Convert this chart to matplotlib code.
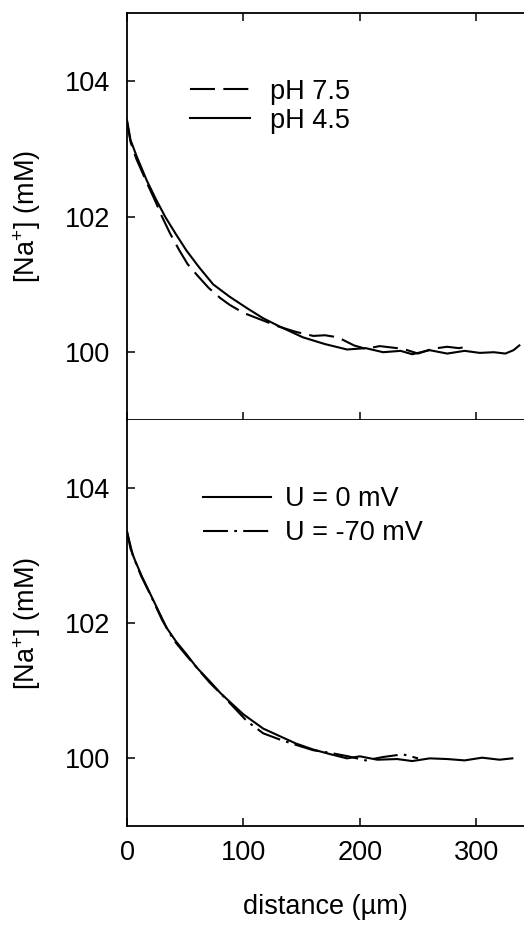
import matplotlib
matplotlib.use("Agg")
import matplotlib.pyplot as plt

plt.rcParams['font.family'] = ['Liberation Sans', 'DejaVu Sans']
plt.rcParams['mathtext.fontset'] = 'custom'
plt.rcParams['mathtext.rm'] = 'Liberation Sans'
plt.rcParams['mathtext.it'] = 'Liberation Sans:italic'
plt.rcParams['mathtext.bf'] = 'Liberation Sans:bold'

# top panel: pH comparison
ph45_x = [0, 3, 8, 17, 25, 33, 42, 51, 62, 74, 88, 103, 117, 131, 151, 170, 189,
          205, 220, 235, 245, 260, 275, 290, 303, 315, 325, 332, 337]
ph45_y = [103.42, 103.13, 102.9, 102.53, 102.25, 101.99, 101.74, 101.5, 101.25,
          101.0, 100.82, 100.65, 100.5, 100.38, 100.22, 100.12, 100.04, 100.06,
          100.0, 100.02, 99.97, 100.03, 99.98, 100.02, 99.99, 100.0, 99.98, 100.03, 100.1]
ph75_x = [0, 3, 8, 17, 25, 30, 37, 45, 52, 60, 70, 80, 88, 100, 115, 130, 145, 160,
          170, 181, 195, 205, 217, 227, 237, 250, 262, 275, 285, 292]
ph75_y = [103.4, 103.1, 102.85, 102.5, 102.2, 102.0, 101.75, 101.5, 101.3, 101.14,
          100.95, 100.8, 100.7, 100.58, 100.48, 100.38, 100.3, 100.24, 100.25, 100.22,
          100.1, 100.05, 100.09, 100.07, 100.05, 99.98, 100.05, 100.08, 100.06, 100.08]

# bottom panel: membrane potential comparison
u0_x = [0, 3, 7, 13, 20, 27, 34, 42, 51, 60, 71, 80, 88, 100, 117, 131, 145, 160,
        175, 189, 200, 215, 232, 245, 260, 275, 290, 305, 320, 331]
u0_y = [103.35, 103.1, 102.92, 102.68, 102.43, 102.18, 101.93, 101.73, 101.54,
        101.34, 101.14, 100.97, 100.84, 100.65, 100.44, 100.33, 100.22, 100.13,
        100.06, 100.0, 100.03, 99.98, 99.99, 99.96, 100.0, 99.99, 99.97, 100.01, 99.98, 100.0]
u70_x = [0, 5, 12, 20, 30, 40, 51, 62, 71, 82, 92, 103, 117, 131, 145, 160, 175,
         190, 205, 220, 237, 250]
u70_y = [103.35, 103.0, 102.7, 102.42, 102.05, 101.75, 101.52, 101.3, 101.12, 100.93,
         100.75, 100.55, 100.37, 100.28, 100.2, 100.12, 100.08, 100.03, 99.97, 100.02,
         100.06, 100.0]

y_ticks = [100, 102, 104]
x_ticks = [0, 100, 200, 300]
ylabel = '[Na$^{+}$] (mM)'

FS = 19.5

fig = plt.figure(figsize=(5.24, 9.25), dpi=100)
ax1 = fig.add_axes([0.2424, 0.5459, 0.7576, 0.44])
ax2 = fig.add_axes([0.2424, 0.107, 0.7576, 0.4389])

ax1.plot(ph75_x, ph75_y, color='black', lw=1.5, dashes=(12, 4), label='pH 7.5')
ax1.plot(ph45_x, ph45_y, color='black', lw=1.5, label='pH 4.5')

ax2.plot(u0_x, u0_y, color='black', lw=1.5, label='U = 0 mV')
ax2.plot(u70_x, u70_y, color='black', lw=1.5, dashes=(12, 3, 1.3, 3), label='U = -70 mV')

for ax in (ax1, ax2):
    ax.set_xlim(0, 341)
    ax.set_ylim(99, 105)
    ax.set_yticks(y_ticks)
    ax.set_xticks(x_ticks)
    ax.spines['right'].set_visible(False)
    for s in ax.spines.values():
        s.set_linewidth(1.3)
    ax.tick_params(direction='in', length=6, width=1.1, labelsize=FS)
    ax.tick_params(axis='y', pad=12)
    ax.tick_params(axis='x', pad=10)
    ax.set_ylabel(ylabel, fontsize=FS, labelpad=16)

ax1.tick_params(axis='x', top=True, labelbottom=False)
ax2.spines['top'].set_visible(False)
ax2.set_xlabel('distance (µm)', fontsize=FS, labelpad=20)

ax1.legend(loc='upper left', bbox_to_anchor=(0.159, 0.838), frameon=False,
           fontsize=FS, handlelength=2.2, handletextpad=0.74, labelspacing=0.1,
           borderpad=0, borderaxespad=0)
ax2.legend(loc='upper left', bbox_to_anchor=(0.191, 0.837), frameon=False,
           fontsize=FS, handlelength=2.5, handletextpad=0.55, labelspacing=0.3,
           borderpad=0, borderaxespad=0)

fig.savefig('out.png', dpi=100)
